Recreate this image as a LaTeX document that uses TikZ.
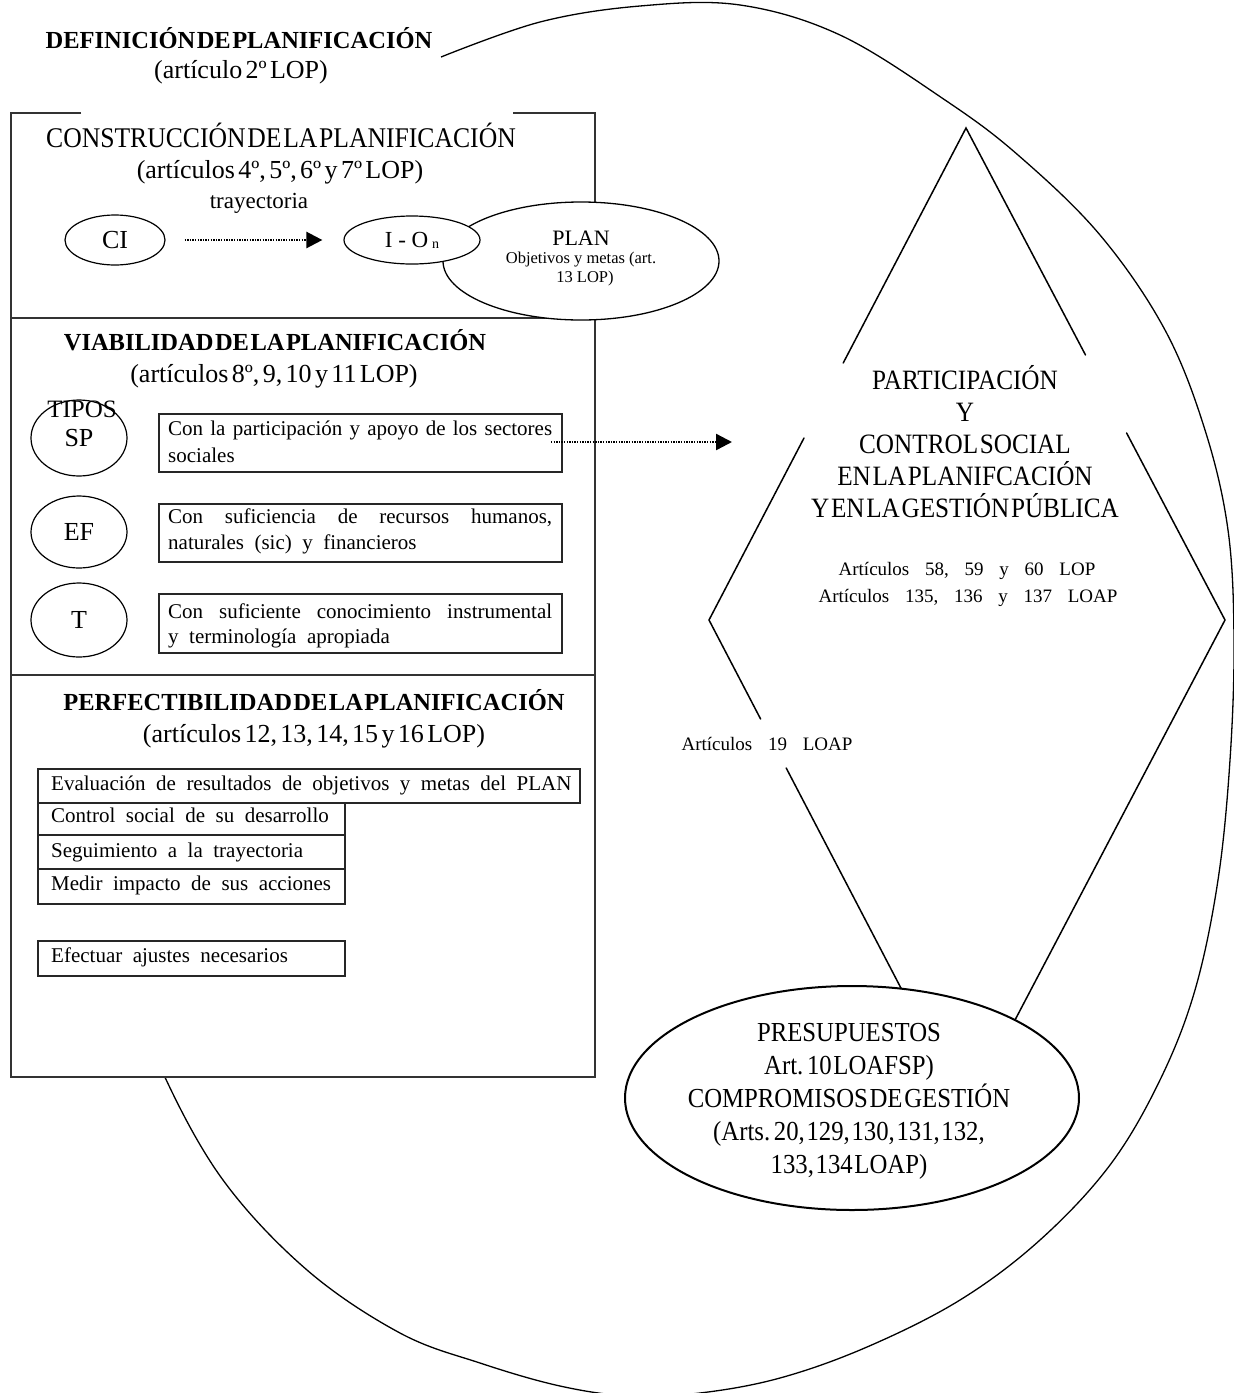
\documentclass[tikz,border=0pt]{standalone}
\usepackage{fontspec}
\setmainfont{Liberation Serif}
\newfontfamily\cfont[FakeStretch=0.9]{Liberation Serif}
\usetikzlibrary{shapes.geometric,arrows.meta}
\newcommand\myfs[2]{\fontsize{#1}{#2}\selectfont}
\newcommand\spnone{\spaceskip=0.06em plus 0.02em minus 0.02em\relax}
\newcommand\sptight{\spaceskip=0.13em plus 0.04em minus 0.04em\relax}
\newcommand\spwide{\spaceskip=0.5em plus 0.2em minus 0.1em\relax}
\newcommand\spxwide{\spaceskip=0.83em plus 0.2em minus 0.1em\relax}
\tikzset{
  frameline/.style={line width=2.2pt, draw=black!80},
  vbox/.style={rectangle, draw=black!85, line width=2pt, inner sep=0pt, anchor=north west},
  oval/.style={ellipse, draw=black, line width=1.2pt, inner sep=0pt},
  dline/.style={line width=1.5pt, line cap=round},
  bigline/.style={line width=1.3pt},
  dotarrow/.style={line width=2.4pt, dash pattern=on 1.3pt off 1.3pt, -{Triangle[length=16pt,width=16pt]}},
  hd/.style={font=\bfseries\myfs{24.5}{29}\spnone, inner sep=0pt, anchor=base},
  hr/.style={font=\cfont\myfs{28.5}{32}\spnone, inner sep=0pt, anchor=base},
  paren/.style={font=\myfs{26}{31}\sptight, inner sep=0pt, anchor=base},
  btxt/.style={font=\myfs{21}{26}, inner sep=0pt, anchor=base west},
  wtxt/.style={font=\myfs{21}{26}\spwide, inner sep=0pt, anchor=base west},
  lbl/.style={font=\myfs{26}{31}},
  artx/.style={font=\myfs{19}{27}\spxwide, inner sep=0pt, anchor=base},
}
\begin{document}
\begin{tikzpicture}[x=1pt,y=-1pt]
\useasboundingbox (0,0) rectangle (1234,1393);

% big enclosing curve
\draw[bigline] plot[smooth, tension=0.6] coordinates {
 (441,57) (540,22) (640,6) (740,5) (840,35) (945,100) (1018,155)
 (1100,235) (1165,330) (1205,430) (1228,530) (1234,640) (1230,760)
 (1218,880) (1195,990) (1160,1080) (1110,1165) (1040,1240) (960,1300)
 (867,1347) (780,1378) (700,1393) (630,1396) (560,1386) (480,1363)
 (400,1333) (307,1270) (223,1180) (163,1073) (130,980)};

% diamond
\coordinate (dTop) at (966,128);
\coordinate (dL) at (709,620);
\coordinate (dR) at (1225,620);
\coordinate (gL1) at (843.2,363);
\coordinate (gL2) at (804,438);
\coordinate (gR1) at (1085.5,355);
\coordinate (gR2) at (1126.6,433);
\coordinate (gB1) at (760.6,719);
\coordinate (gB2) at (786.2,768);
\coordinate (pL) at (903,992);
\coordinate (pR) at (1015,1020);
\draw[dline] (gL1) -- (dTop) -- (gR1);
\draw[dline] (gL2) -- (dL) -- (gB1);
\draw[dline] (gB2) -- (pL);
\draw[dline] (gR2) -- (dR) -- (pR);

\node[ellipse, draw=black, line width=2pt, fill=white, minimum width=454pt, minimum height=224pt, inner sep=0pt] (pres) at (852,1098) {};
\node[font=\cfont\myfs{27.5}{33}\spnone, align=center, inner sep=0pt] (prestxt) at (849,1101)
 {PRESUPUESTOS\\Art. 10 LOAFSP)\\COMPROMISOS DE GESTIÓN\\(Arts. 20, 129, 130, 131, 132,\\133, 134 LOAP)};

\node[font=\cfont\myfs{28}{32}\spnone, align=center, inner sep=0pt] (part) at (965,442)
 {PARTICIPACIÓN\\Y\\CONTROL SOCIAL\\EN LA PLANIFCACIÓN\\Y EN LA GESTIÓN PÚBLICA};
\node[artx] (art1) at (967,575) {Artículos 58, 59 y 60 LOP};
\node[artx] (art2) at (968,602) {Artículos 135, 136 y 137 LOAP};
\node[artx] (art3) at (767,750) {Artículos 19 LOAP};

% title
\node[hd] (def) at (239,48) {DEFINICIÓN DE PLANIFICACIÓN};
\node[paren] (defa) at (241,78) {(artículo 2º LOP)};

% left frame
\fill[white] (11,113) rectangle (595,1077);
\draw[frameline] (81,113) -- (11,113) -- (11,1077) -- (595,1077) -- (595,113) -- (513,113);
\draw[frameline] (11,318) -- (595,318);
\draw[frameline] (11,675) -- (595,675);

% section 1
\node[hr] (cons) at (281,147) {CONSTRUCCIÓN DE LA PLANIFICACIÓN};
\node[paren] (consa) at (280,178) {(artículos 4º, 5º, 6º y 7º LOP)};
\node[font=\myfs{23}{28}, inner sep=0pt, anchor=base] (tray) at (259,208) {trayectoria};
\node[oval, lbl, minimum width=100pt, minimum height=50pt] (ci) at (115,240) {CI};
\node[ellipse, draw=black, line width=1.3pt, fill=white, minimum width=276pt, minimum height=118pt, inner sep=0pt] (plan) at (581,261) {};
\node[oval, fill=white, minimum width=136pt, minimum height=48pt, font=\myfs{23}{28}] (io) at (412,240) {I - O\,\raisebox{-1pt}{\myfs{14}{14}n}};
\node[font=\myfs{22}{26}, inner sep=0pt, anchor=base] (plant) at (581,245) {PLAN};
\node[font=\myfs{16.5}{20}, inner sep=0pt, anchor=base] (plan2) at (581,263) {Objetivos y metas (art.};
\node[font=\myfs{16.5}{20}, inner sep=0pt, anchor=base] (plan3) at (585,282) {13 LOP)};
\draw[dotarrow, shorten <=19pt, shorten >=21pt] (ci.east) -- (io.west);

% section 2
\node[hd] (via) at (275,350) {VIABILIDAD DE LA PLANIFICACIÓN};
\node[paren] (viaa) at (274,382) {(artículos 8º, 9, 10 y 11 LOP)};
\node[font=\myfs{25}{30}, inner sep=0pt, anchor=base] (tipos) at (82,417) {TIPOS};
\node[oval, lbl, minimum width=96pt, minimum height=76pt] (sp) at (79,438) {SP};
\node[oval, lbl, minimum width=96pt, minimum height=72pt] (ef) at (79,532) {EF};
\node[oval, lbl, minimum width=96pt, minimum height=74pt] (t) at (79,620) {T};
\node[vbox, minimum width=403pt, minimum height=58pt] (b1) at (158,413) {};
\node[vbox, minimum width=403pt, minimum height=58pt] (b2) at (158,503) {};
\node[vbox, minimum width=403pt, minimum height=59pt] (b3) at (158,593) {};
\node[btxt] (b1a) at (168,435) {\makebox[384pt][s]{Con la participación y apoyo de los sectores}};
\node[wtxt] (b1b) at (168,462) {sociales};
\node[btxt] (b2a) at (168,523) {\makebox[384pt][s]{Con suficiencia de recursos humanos,}};
\node[wtxt] (b2b) at (168,549) {naturales (sic) y financieros};
\node[btxt] (b3a) at (168,618) {\makebox[384pt][s]{Con suficiente conocimiento instrumental}};
\node[wtxt] (b3b) at (168,643) {y terminología apropiada};
\coordinate (a2s) at (551,442);
\coordinate (a2e) at (732,442);
\draw[dotarrow] (a2s) -- (a2e);

% section 3
\node[hd] (perf) at (314,710) {PERFECTIBILIDAD DE LA PLANIFICACIÓN};
\node[paren] (perfa) at (314,742) {(artículos 12, 13, 14, 15 y 16 LOP)};
\node[vbox, minimum width=542pt, minimum height=34pt] (e1) at (37,768) {};
\node[vbox, minimum width=307pt, minimum height=32pt] (e2) at (37,802) {};
\node[vbox, minimum width=307pt, minimum height=34pt] (e3) at (37,834) {};
\node[vbox, minimum width=307pt, minimum height=35pt] (e4) at (37,868) {};
\node[vbox, minimum width=307pt, minimum height=35pt] (e5) at (37,940) {};
\node[wtxt] (e1t) at (51,790) {Evaluación de resultados de objetivos y metas del PLAN};
\node[wtxt] (e2t) at (51,822) {Control social de su desarrollo};
\node[wtxt] (e3t) at (51,857) {Seguimiento a la trayectoria};
\node[wtxt] (e4t) at (51,890) {Medir impacto de sus acciones};
\node[wtxt] (e5t) at (51,962) {Efectuar ajustes necesarios};
\end{tikzpicture}
\end{document}
